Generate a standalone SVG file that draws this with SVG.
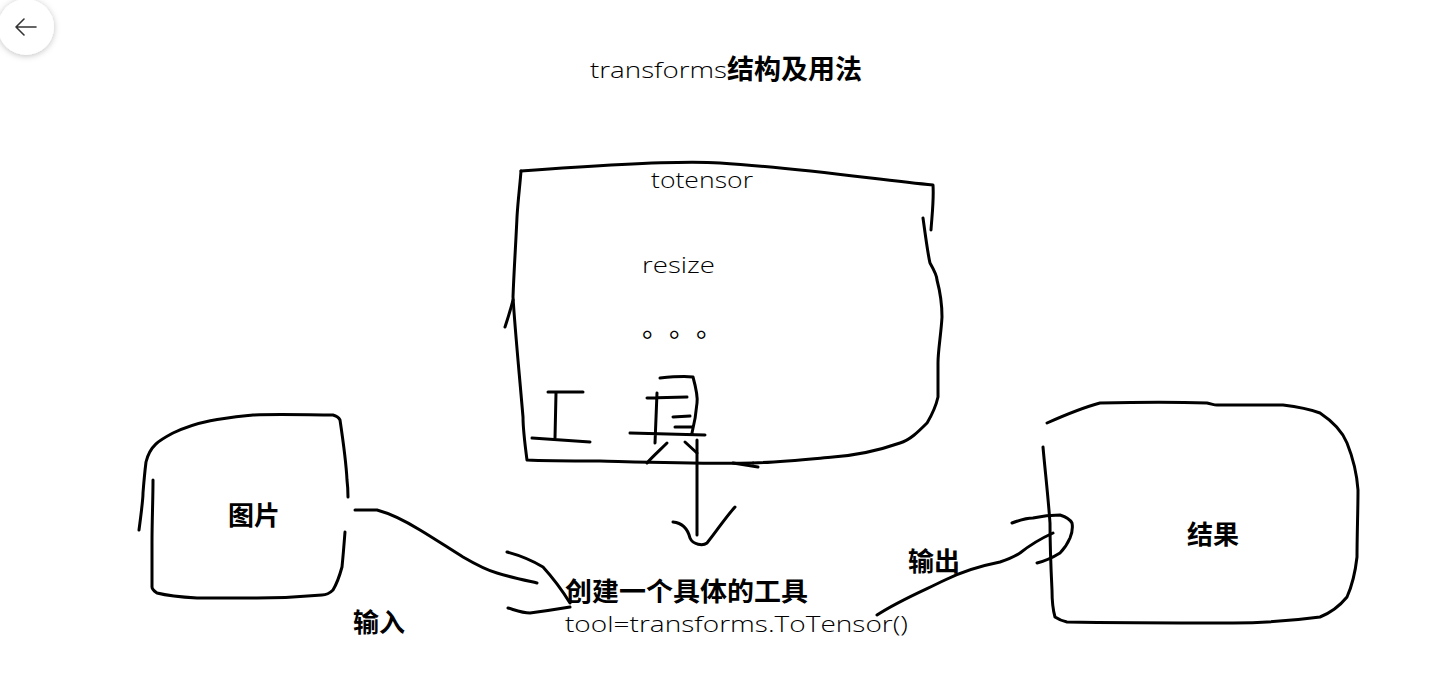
<svg xmlns="http://www.w3.org/2000/svg" width="1432" height="684" viewBox="0 0 1432 684">
<defs>
<style>
.s{fill:none;stroke:#000;stroke-width:3;stroke-linecap:round;stroke-linejoin:round}
.h{font-family:"Open Sans","DejaVu Sans",sans-serif;font-weight:300;fill:#000}
.b{font-family:"Noto Sans CJK SC","Noto Sans",sans-serif;font-weight:700;fill:#000}
.d{font-family:"Noto Sans CJK SC",sans-serif;font-size:27px;fill:#000}
</style>
<filter id="sh" x="-50%" y="-50%" width="200%" height="200%">
<feDropShadow dx="0" dy="1" stdDeviation="3" flood-color="#000" flood-opacity="0.25"/>
</filter>
</defs>
<rect width="1432" height="684" fill="#fff"/>
<g id="back">
<circle cx="26" cy="27" r="28" fill="#fff" filter="url(#sh)"/>
<path d="M16 27H36M16 27L24 19M16 27L24 35" fill="none" stroke="#333" stroke-width="1.6" stroke-linecap="round"/>
</g>
<g id="title">
<text x="590" y="78" class="h" font-size="22" textLength="137" lengthAdjust="spacingAndGlyphs">transforms</text>
<text x="727" y="79" class="b" font-size="27" textLength="135" lengthAdjust="spacingAndGlyphs">结构及用法</text>
</g>
<g id="tools">
<path class="s" d="M521 171 C600 165 680 160 720 163 C800 168 880 180 933 185 C934 200 932 215 931 230"/>
<path class="s" d="M923 218 C926 240 928 255 930 263 C934 270 937 276 937 280 C941 295 942 305 942 317 C941 335 938 350 938 363 C938 375 938 390 938 397 C935 410 930 418 927 423 C918 432 910 440 900 443 C880 450 860 455 833 457 C810 459 780 462 753 463"/>
<path class="s" d="M753 463 C700 464 640 462 600 461 C570 461 545 461 527 460 C525 445 523 430 523 417 C519 370 515 330 513 297 C514 270 516 240 517 217 C518 200 520 185 521 171"/>
<path class="s" d="M505 327 C508 318 511 308 513 300"/>
<path class="s" d="M548 392 L583 392 M556 393 L555 438 M532 438 L590 442"/>
<path class="s" d="M660 378 C670 377 685 376 693 377 C696 388 698 396 697 403 C696 415 694 425 692 433 M657 393 L655 443 M647 398 L687 397 M673 417 L690 416 M675 427 L692 427 M630 433 L705 435 M667 443 C660 450 652 457 647 463 M685 442 L697 453 M733 463 L758 467"/>
<text x="651" y="188" class="h" font-size="22" textLength="102" lengthAdjust="spacingAndGlyphs">totensor</text>
<text x="642" y="273" class="h" font-size="22" textLength="73" lengthAdjust="spacingAndGlyphs">resize</text>
<text x="642" y="337" class="d">。</text>
<text x="669" y="337" class="d">。</text>
<text x="696" y="337" class="d">。</text>
</g>
<g id="image">
<path class="s" d="M139 530 C141 515 143 500 143 493 C144 480 145 470 146 462 C150 445 160 440 173 433 C200 420 225 418 253 415 C280 414 310 415 333 415 C337 416 339 418 340 420 C343 440 346 460 347 480 C348 488 348 494 348 497"/>
<path class="s" d="M345 532 C344 545 343 557 342 567 C339 578 336 585 333 590 C330 593 326 595 322 595 C300 597 280 598 257 598 C237 598 217 598 197 598 C180 597 165 595 157 593 C154 591 152 589 152 587 C152 570 152 555 152 543 C152 520 153 500 153 480"/>
<text x="254" y="525" class="b" font-size="26" text-anchor="middle">图片</text>
</g>
<g id="create">
<text x="565" y="601" class="b" font-size="26" textLength="243" lengthAdjust="spacingAndGlyphs">创建一个具体的工具</text>
<text x="565" y="632" class="h" font-size="22" textLength="343" lengthAdjust="spacingAndGlyphs">tool=transforms.ToTensor()</text>
</g>
<g id="result">
<path class="s" d="M1047 423 C1065 415 1085 407 1100 403 C1140 402 1180 402 1207 403 C1212 404 1214 405 1217 405 C1240 405 1262 405 1283 405 C1300 407 1312 410 1320 413 C1335 423 1343 433 1347 443 C1353 458 1357 475 1358 490 C1358 510 1357 535 1357 557 C1355 575 1351 588 1347 597 C1338 608 1330 613 1320 617 C1290 621 1260 623 1233 623 C1180 623 1120 623 1067 622 C1062 621 1058 619 1055 617 C1053 610 1052 600 1052 590 C1051 570 1050 545 1050 523 C1048 495 1045 470 1043 447"/>
<text x="1213" y="544" class="b" font-size="26" text-anchor="middle">结果</text>
</g>
<g id="connectors">
<path class="s" d="M355 510 C362 510 370 510 377 510 C392 514 407 522 420 530 C435 539 450 549 463 557 C475 564 486 570 497 573 C510 577 524 580 537 583"/>
<path class="s" d="M507 552 C522 556 533 561 543 567 C553 578 562 590 570 603 M508 608 C515 610 522 613 530 613 C545 611 558 609 570 607"/>
<path class="s" d="M697 440 L697 535 M673 522 C683 523 688 530 690 538 C693 545 703 546 707 543 C716 532 725 518 735 507"/>
<path class="s" d="M877 615 C900 600 925 590 945 580 C965 570 985 565 1000 562 C1012 558 1020 553 1020 553 C1030 545 1042 538 1053 533"/>
<path class="s" d="M1012 523 C1020 520 1026 518 1033 518 C1042 516 1052 515 1060 515 C1066 517 1070 519 1072 523 C1073 528 1072 533 1070 538 C1067 545 1064 549 1060 553 C1052 558 1045 561 1037 563"/>
<text x="379" y="632" class="b" font-size="26" text-anchor="middle">输入</text>
<text x="934" y="571" class="b" font-size="26" text-anchor="middle">输出</text>
</g>
</svg>
